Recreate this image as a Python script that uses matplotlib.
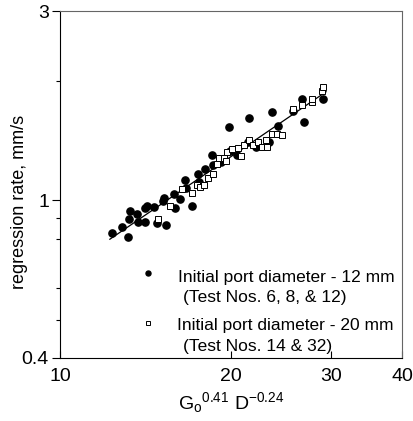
import matplotlib
matplotlib.use("Agg")
import matplotlib.pyplot as plt
import numpy as np
from matplotlib.ticker import FixedLocator, NullFormatter, NullLocator

plt.rcParams['font.family'] = ['Liberation Sans', 'DejaVu Sans']
plt.rcParams['mathtext.fontset'] = 'custom'
plt.rcParams['mathtext.rm'] = 'Liberation Sans'
plt.rcParams['mathtext.it'] = 'Liberation Sans'

# 12 mm port (filled circles)
filled_x = [12.35, 12.86, 13.17, 13.23, 13.28, 13.66, 13.72, 14.11, 14.11, 14.23,
            14.64, 14.82, 15.37, 15.18, 15.24, 15.94, 15.87, 16.26, 16.66, 16.60,
            17.08, 17.50, 18.00, 17.57, 18.52, 18.59, 19.21, 19.84, 19.92, 20.49,
            21.51, 21.43, 22.14, 23.33, 23.62, 24.20, 25.72, 26.67, 26.89, 29.04]
filled_y = [0.827, 0.856, 0.808, 0.897, 0.939, 0.923, 0.881, 0.881, 0.956, 0.967,
            0.961, 0.876, 0.866, 0.995, 1.013, 0.956, 1.037, 1.007, 1.073, 1.124,
            0.967, 1.165, 1.199, 1.111, 1.300, 1.227, 1.248, 1.530, 1.331, 1.300,
            1.612, 1.402, 1.362, 1.402, 1.669, 1.539, 1.679, 1.800, 1.575, 1.800]

# 20 mm port (open squares)
open_x = [14.88, 15.62, 16.40, 17.08, 17.43, 17.64, 17.93, 18.22, 18.59, 18.90,
          19.05, 19.44, 19.60, 19.68, 20.09, 20.58, 20.83, 21.08, 21.51, 21.87,
          22.32, 22.68, 23.14, 23.05, 23.62, 24.10, 24.59, 25.72, 26.67, 27.78,
          27.78, 28.93, 29.04]
open_y = [0.897, 0.967, 1.067, 1.043, 1.092, 1.080, 1.092, 1.137, 1.165, 1.234,
          1.278, 1.278, 1.256, 1.323, 1.346, 1.354, 1.293, 1.378, 1.418, 1.378,
          1.402, 1.362, 1.362, 1.418, 1.469, 1.469, 1.460, 1.698, 1.739, 1.769,
          1.800, 1.885, 1.930]

# power-law fit r = a * X^n
fit_a = 0.069
fit_n = 0.977
fit_x = np.array([12.24, 29.4])
fit_y = fit_a * fit_x ** fit_n

x_ticks = [10, 20, 30, 40]
y_ticks = [0.4, 1, 3]
y_minor = [0.5, 0.6, 0.8, 0.9, 2]

legend_labels = ["Initial port diameter - 12 mm", "(Test Nos. 6, 8, & 12)",
                 "Initial port diameter - 20 mm", "(Test Nos. 14 & 32)"]

fig = plt.figure(figsize=(4.13, 4.21), dpi=100)
ax = fig.add_axes([60/413, 1-358/421, 342/413, 347/421])
ax.set_xscale('log')
ax.set_yscale('log')
ax.set_xlim(10, 40)
ax.set_ylim(0.4, 3)

ax.plot(fit_x, fit_y, color='black', lw=0.9, zorder=2)
ax.plot(filled_x, filled_y, 'o', color='black', ms=5.2, mec='black', zorder=3)
ax.plot(open_x, open_y, 's', mfc='white', mec='black', mew=0.7, ms=4.3, zorder=4)

ax.xaxis.set_major_locator(FixedLocator(x_ticks))
ax.xaxis.set_major_formatter(plt.FixedFormatter([str(v) for v in x_ticks]))
ax.xaxis.set_minor_locator(NullLocator())
ax.yaxis.set_major_locator(FixedLocator(y_ticks))
ax.yaxis.set_major_formatter(plt.FixedFormatter(['0.4', '1', '3']))
ax.yaxis.set_minor_locator(FixedLocator(y_minor))
ax.yaxis.set_minor_formatter(NullFormatter())

ax.tick_params(axis='x', which='major', direction='in', length=5, width=0.8,
               labelsize=14, pad=7)
ax.tick_params(axis='y', which='major', direction='out', length=6, width=0.8,
               labelsize=14, pad=2)
ax.tick_params(axis='y', which='minor', direction='out', length=3, width=0.8)

for side in ['top', 'right']:
    ax.spines[side].set_color('#666666')
    ax.spines[side].set_linewidth(0.8)
for side in ['left', 'bottom']:
    ax.spines[side].set_color('black')
    ax.spines[side].set_linewidth(0.8)

ax.set_xlabel(r'$\mathregular{G_{o}{}^{0.41}\ D^{-0.24}}$', fontsize=14, labelpad=4)
ax.set_ylabel('regression rate, mm/s', fontsize=13)
ax.yaxis.set_label_coords(-0.094, 0.45)

# legend drawn manually
ax.plot([0.257], [0.245], 'o', color='black', ms=3.6, transform=ax.transAxes)
ax.plot([0.257], [0.101], 's', mfc='white', mec='black', mew=0.7, ms=3.0,
        transform=ax.transAxes)
ax.text(0.345, 0.233, legend_labels[0], transform=ax.transAxes, fontsize=12.5, va='center')
ax.text(0.360, 0.173, legend_labels[1], transform=ax.transAxes, fontsize=12.5, va='center')
ax.text(0.342, 0.095, legend_labels[2], transform=ax.transAxes, fontsize=12.5, va='center')
ax.text(0.360, 0.032, legend_labels[3], transform=ax.transAxes, fontsize=12.5, va='center')

fig.savefig('out.png', dpi=100, facecolor='white')
